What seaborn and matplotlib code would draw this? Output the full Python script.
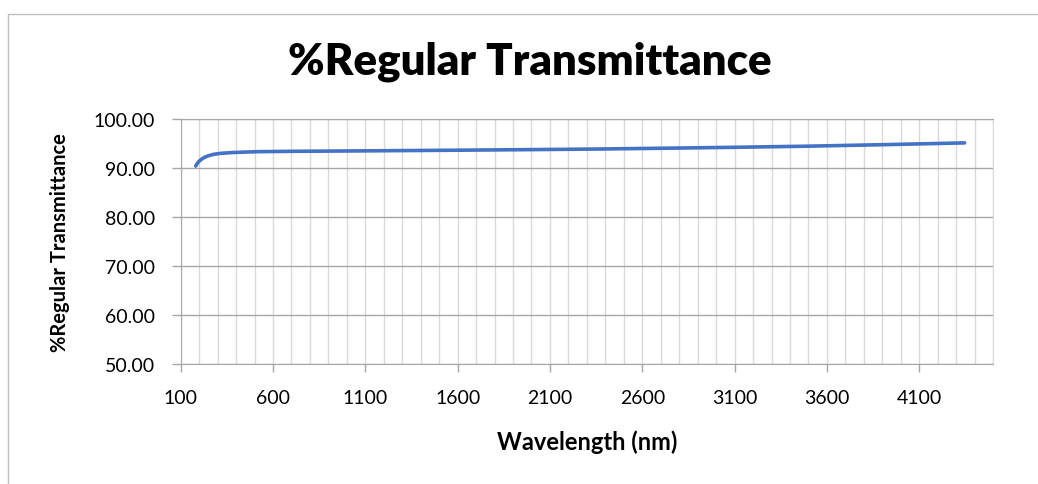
import seaborn as sns
import matplotlib.pyplot as plt
import pandas as pd
from matplotlib.ticker import MultipleLocator, FormatStrFormatter

# values
wavelength = [181, 190, 200, 215, 230, 250, 280, 320, 380, 450, 520, 700,
              1000, 1230, 1600, 2000, 2360, 2800, 3100, 3500, 3900, 4346]
transmittance = [90.35, 90.9, 91.35, 91.8, 92.15, 92.45, 92.75, 92.95, 93.1, 93.2, 93.28, 93.35,
                 93.42, 93.48, 93.58, 93.7, 93.82, 94.02, 94.17, 94.4, 94.7, 95.07]
x_ticks = [100, 600, 1100, 1600, 2100, 2600, 3100, 3600, 4100]
y_ticks = [50, 60, 70, 80, 90, 100]

data = pd.DataFrame({'Wavelength': wavelength, 'Transmittance': transmittance})

sns.set_style("white")
plt.rcParams['font.family'] = ['Lato', 'DejaVu Sans']
plt.rcParams['text.color'] = 'black'
plt.rcParams['axes.labelcolor'] = 'black'
plt.rcParams['xtick.color'] = 'black'
plt.rcParams['ytick.color'] = 'black'

fig = plt.figure(figsize=(10.38, 4.85), dpi=100)
ax = fig.add_axes([0.1741, 0.2474, 0.7826, 0.5058])

sns.lineplot(data=data, x='Wavelength', y='Transmittance', ax=ax,
             color='#4472C4', linewidth=2.6)

ax.set_xlim(100, 4500)
ax.set_ylim(50, 100)
ax.set_xticks(x_ticks)
ax.xaxis.set_minor_locator(MultipleLocator(100))
ax.set_yticks(y_ticks)
ax.yaxis.set_major_formatter(FormatStrFormatter('%.2f'))

# grid: light vertical lines every 100, darker horizontal lines
ax.grid(which='both', axis='x', color='#d9d9d9', linewidth=1)
ax.grid(which='major', axis='y', color='#a6a6a6', linewidth=1)
ax.set_axisbelow(True)

ax.tick_params(axis='x', which='major', length=5.8, width=1, color='#a6a6a6',
               labelcolor='black', pad=12, labelsize=14, bottom=True)
ax.tick_params(axis='x', which='minor', length=0)
ax.tick_params(axis='y', which='major', length=6.5, width=1, color='#a6a6a6',
               labelcolor='black', pad=12, labelsize=14, left=True)

for side in ['left', 'bottom', 'top']:
    ax.spines[side].set_color('#a6a6a6')
ax.spines['right'].set_color('#d9d9d9')

ax.set_xlabel('Wavelength (nm)', fontsize=17, fontweight='bold', va='center')
ax.set_ylabel('%Regular Transmittance', fontsize=14.5, fontweight='bold', va='center')
ax.xaxis.set_label_coords(0.5, -0.314)
ax.yaxis.set_label_coords(-0.1486, 0.5)

fig.text(0.510, 1 - 62 / 485, '%Regular Transmittance', ha='center', va='center',
         fontsize=31.5, fontweight='heavy')

# chart area border
fig.add_artist(plt.Rectangle((8 / 1038, -0.1), 1.2, 1 - 15 / 485 + 0.1,
                             transform=fig.transFigure, fill=False,
                             edgecolor='#bfbfbf', linewidth=1))

fig.savefig('out.png', dpi=100)
